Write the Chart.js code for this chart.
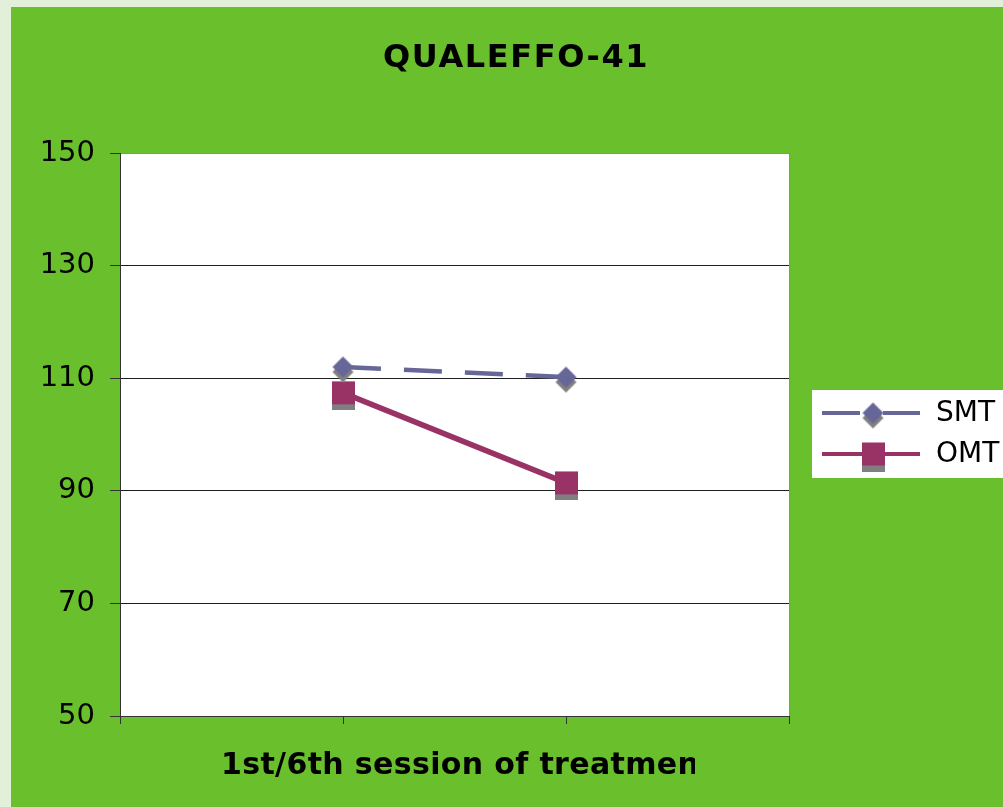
<!DOCTYPE html>
<html>
<head>
<meta charset="utf-8">
<script src="https://cdn.jsdelivr.net/npm/chart.js@4/dist/chart.umd.min.js"></script>
<style>
  html, body { margin: 0; padding: 0; background: #e3f0d9; }
  #wrap { position: absolute; left: 0; top: 0; width: 1003px; height: 807px; }
</style>
</head>
<body>
<div id="wrap"><canvas id="c" width="1003" height="807"></canvas></div>
<script>
// Chart values
const chartTitle = 'QUALEFFO-41';
const axisTitle = '1st/6th session of treatment';
const sessions = ['1st', '6th'];
const smtValues = [112, 110.2];
const omtValues = [107.4, 91.4];
const yTicks = [50, 70, 90, 110, 130, 150];

const SMT_COLOR = '#666699';
const OMT_COLOR = '#993366';
const SHADOW = '#7f7f7f';
const GREEN = '#69bf2c';

// category slots: empty slot on each side so the sessions sit on the inner ticks
const labels = ['', ...sessions, ''];
const pad = arr => [null, ...arr, null];

// marker sprites with a drop shadow below the shape
function diamondSprite(size, off, color) {
  const c = document.createElement('canvas');
  const h = size + off * 2 + 2;
  c.width = size + 2; c.height = h;
  const g = c.getContext('2d');
  const cx = c.width / 2, cy = h / 2, r = size / 2;
  const path = (dy) => {
    g.beginPath();
    g.moveTo(cx, cy - r + dy); g.lineTo(cx + r, cy + dy);
    g.lineTo(cx, cy + r + dy); g.lineTo(cx - r, cy + dy); g.closePath();
  };
  g.fillStyle = SHADOW; path(off); g.fill();
  g.fillStyle = color; path(0); g.fill();
  return c;
}
function squareSprite(size, off, color) {
  const c = document.createElement('canvas');
  c.width = size; c.height = size + off * 2;
  const g = c.getContext('2d');
  g.fillStyle = SHADOW; g.fillRect(0, off * 2, size, size);
  g.fillStyle = color; g.fillRect(0, off, size, size);
  return c;
}
const diamond = diamondSprite(21, 5, SMT_COLOR);
const square = squareSprite(23, 6, OMT_COLOR);

const frame = {
  id: 'frame',
  beforeDraw(chart) {
    const { ctx, chartArea: a } = chart;
    ctx.save();
    ctx.fillStyle = '#e3f0d9';
    ctx.fillRect(0, 0, chart.width, chart.height);
    ctx.fillStyle = GREEN;
    ctx.fillRect(11, 7, chart.width - 11, chart.height - 7);
    ctx.fillStyle = '#ffffff';
    ctx.fillRect(a.left, a.top, a.right - a.left, a.bottom - a.top);
    ctx.restore();
  },
  afterDraw(chart) {
    const { ctx, chartArea: a } = chart;
    ctx.save();
    // right edge of plot area
    ctx.strokeStyle = '#8c8c8c';
    ctx.lineWidth = 1;
    ctx.beginPath();
    ctx.moveTo(a.right + 0.5, a.top);
    ctx.lineTo(a.right + 0.5, a.bottom);
    ctx.stroke();

    // chart title
    ctx.fillStyle = '#000';
    ctx.font = 'bold 32px "DejaVu Sans"';
    ctx.letterSpacing = '1.6px';
    ctx.textAlign = 'left';
    ctx.textBaseline = 'alphabetic';
    ctx.fillText(chartTitle, 383, 67);

    // axis title, clipped on the right
    ctx.save();
    ctx.beginPath();
    ctx.rect(0, a.bottom + 10, 695, 80);
    ctx.clip();
    ctx.font = 'bold 30px "DejaVu Sans"';
    ctx.letterSpacing = '0.35px';
    ctx.textAlign = 'left';
    ctx.fillText(axisTitle, 221, 774);
    ctx.restore();
    ctx.letterSpacing = '0px';

    // legend
    ctx.fillStyle = '#ffffff';
    ctx.fillRect(812, 390, chart.width - 812, 88);
    const items = chart.data.datasets.map((ds, i) => ({
      label: ds.label, color: ds.borderColor, dash: ds.borderDash || [],
      sprite: ds.pointStyle, y: 413 + i * 41
    }));
    items.forEach(it => {
      ctx.strokeStyle = it.color;
      ctx.lineWidth = 4;
      ctx.setLineDash(it.dash);
      ctx.beginPath();
      ctx.moveTo(822, it.y);
      ctx.lineTo(920, it.y);
      ctx.stroke();
      ctx.setLineDash([]);
      ctx.drawImage(it.sprite, 873 - it.sprite.width / 2, it.y - it.sprite.height / 2);
      ctx.fillStyle = '#000';
      ctx.font = '28px "DejaVu Sans"';
      ctx.textAlign = 'left';
      ctx.textBaseline = 'middle';
      ctx.fillText(it.label, 936, it.y + 1);
    });
    ctx.restore();
  }
};

new Chart(document.getElementById('c'), {
  type: 'line',
  data: {
    labels,
    datasets: [
      {
        label: 'SMT',
        data: pad(smtValues),
        borderColor: SMT_COLOR,
        borderWidth: 4.5,
        borderDash: [38, 23],
        pointStyle: diamond,
        pointRadius: 11,
        tension: 0
      },
      {
        label: 'OMT',
        data: pad(omtValues),
        borderColor: OMT_COLOR,
        borderWidth: 5.5,
        pointStyle: square,
        pointRadius: 12,
        tension: 0
      }
    ]
  },
  options: {
    responsive: false,
    animation: false,
    events: [],
    layout: { padding: { left: 0, top: 153, right: 214, bottom: 0 } },
    plugins: { legend: { display: false }, title: { display: false }, tooltip: { enabled: false } },
    scales: {
      x: {
        type: 'category',
        offset: false,
        grid: { drawOnChartArea: false, drawTicks: true, tickLength: 8, tickColor: '#333', lineWidth: 1 },
        border: { color: '#333', width: 1 },
        ticks: { display: false },
        afterFit(s) { s.height = 91; }
      },
      y: {
        min: 50, max: 150,
        afterBuildTicks(s) { s.ticks = yTicks.map(v => ({ value: v })); },
        grid: {
          color: ctx => (ctx.tick && ctx.tick.value === 150 ? '#8c8c8c' : '#1e1e1e'),
          tickColor: '#333',
          tickLength: 10,
          lineWidth: 1
        },
        border: { color: '#333', width: 1 },
        ticks: { color: '#000', font: { family: 'DejaVu Sans', size: 29 }, padding: 15 },
        afterFit(s) { s.width = 120; }
      }
    }
  },
  plugins: [frame]
});
</script>
</body>
</html>
